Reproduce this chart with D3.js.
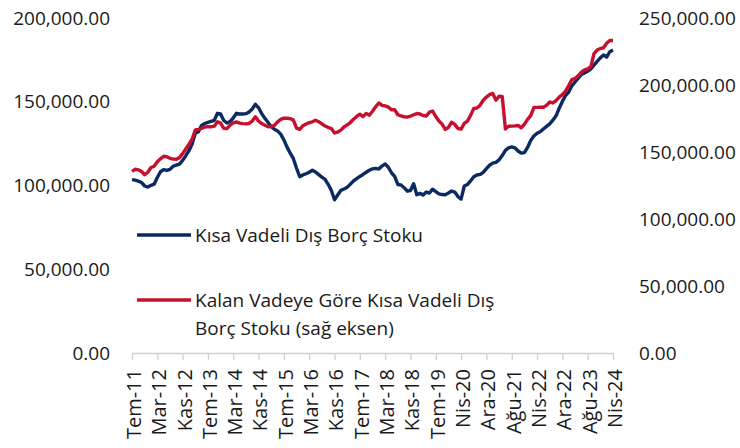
<!DOCTYPE html>
<html>
<head>
<meta charset="utf-8">
<script src="https://cdn.jsdelivr.net/npm/d3@7"></script>
<style>
  body { margin: 0; background: #fff; }
  svg text { font-family: "Open Sans", "Noto Sans", sans-serif; fill: #1a1a1a; }
</style>
</head>
<body>
<div id="chart"></div>
<script>
// monthly categories Tem-11 .. Nis-24 (one month absent in the source series)
const monthNames = ['Oca','Şub','Mar','Nis','May','Haz','Tem','Ağu','Eyl','Eki','Kas','Ara'];
const missingMonth = 'Ara-19';
const categories = [];
for (let y = 2011; y <= 2024; y++) {
  for (let m = 0; m < 12; m++) {
    if (y === 2011 && m < 6) continue;
    if (y === 2024 && m > 3) continue;
    const lab = monthNames[m] + '-' + String(y).slice(2);
    if (lab !== missingMonth) categories.push(lab);
  }
}

const tickLabels = ['Tem-11','Mar-12','Kas-12','Tem-13','Mar-14','Kas-14','Tem-15','Mar-16','Kas-16','Tem-17',
  'Mar-18','Kas-18','Tem-19','Nis-20','Ara-20','Ağu-21','Nis-22','Ara-22','Ağu-23','Nis-24'];
const leftTicks = [0, 50000, 100000, 150000, 200000];
const rightTicks = [0, 50000, 100000, 150000, 200000, 250000];

// Kısa Vadeli Dış Borç Stoku (left axis)
const shortTerm = [
  103500,103200,102600,101800,99700,99100,100100,100800,104800,108200,
  109500,109000,109600,111500,112200,112800,115000,117800,120800,124800,
  131200,132100,135900,137000,137700,138300,138900,143100,142700,138800,
  137300,138200,140300,143100,142700,142700,142900,143900,145700,148500,
  146400,142900,140100,137600,135100,133600,132600,130700,127200,122900,
  119300,116000,110300,105300,106300,107000,107900,109100,108100,106500,
  105000,103700,100700,97000,91500,94300,97100,97900,98900,100800,
  102700,104100,105400,106600,107900,109100,109900,110200,109800,111600,
  112900,110900,107600,105400,100600,100300,98700,96600,97000,101000,
  94500,95300,94300,96100,95500,97800,96400,95000,94600,94500,
  95500,96700,96100,93400,91900,99700,100600,102700,105200,106300,
  106600,107800,110100,112100,113400,113800,115300,117900,121000,122500,
  123000,122500,120600,119300,119600,122700,126900,129500,131200,132100,
  133700,135300,136800,139000,141600,146100,150200,153700,155800,159500,
  161800,164100,166200,167200,168200,169600,171900,174100,176200,177900,
  176700,179900,180900
];

// Kalan Vadeye Göre Kısa Vadeli Dış Borç Stoku (right axis)
const residualTerm = [
  135500,137100,136700,135400,133000,134900,138400,139400,142700,144900,
  146800,146500,145300,144700,144600,145800,148800,152200,155800,159600,
  166400,166900,167600,168700,168900,168800,169300,172500,171500,167600,
  167500,170000,171800,172400,171600,171200,171000,171300,173100,176300,
  173000,171200,169900,168800,169000,169900,172500,174300,175300,175200,
  174900,173800,167800,166900,169600,170900,171900,172500,173700,172600,
  171000,169400,168400,167500,164200,164900,166300,168700,170300,172000,
  174400,176500,178200,176400,178800,177400,180400,183700,186600,184800,
  184400,183500,181500,181600,177800,176900,176300,176000,176700,177800,
  178700,178400,177200,176900,179800,180600,176500,173100,170800,166900,
  168300,172200,170600,167500,167100,171300,173100,177300,182500,182800,
  184900,188600,191000,192800,193700,188700,191600,191400,167200,169200,
  169300,169500,169800,168100,170700,174300,177200,183200,183300,183400,
  183400,184800,187300,186600,188400,190900,192800,195500,199600,204000,
  204900,206900,209600,211300,212000,213800,223400,226100,227200,227800,
  231100,233200,233200
];

const width = 740, height = 448;
const plot = { left: 132, right: 613, top: 18, bottom: 353 };
const blue = '#0b2a62', red = '#c8102e';

const svg = d3.select('#chart').append('svg')
  .attr('width', width).attr('height', height);

const x = d3.scalePoint().domain(categories).range([plot.left, plot.right]);
const yL = d3.scaleLinear().domain([0, 200000]).range([plot.bottom, plot.top]);
const yR = d3.scaleLinear().domain([0, 250000]).range([plot.bottom, plot.top]);
const fmt = d3.format(',.2f');

// left axis
const gl = svg.append('g').attr('transform', `translate(${plot.left},0)`)
  .call(d3.axisLeft(yL).tickValues(leftTicks).tickSize(0).tickPadding(22).tickFormat(fmt));
gl.select('.domain').remove();

// right axis
const gr = svg.append('g').attr('transform', `translate(${plot.right},0)`)
  .call(d3.axisRight(yR).tickValues(rightTicks).tickSize(0).tickPadding(26).tickFormat(fmt));
gr.select('.domain').remove();

svg.selectAll('.tick text').style('font-size', '19px');

// bottom axis
const gx = svg.append('g').attr('transform', `translate(0,${plot.bottom})`)
  .call(d3.axisBottom(x).tickValues(tickLabels).tickSize(7).tickSizeOuter(0));
gx.select('.domain').attr('stroke', '#d0d0d0').attr('stroke-width', 1.3);
gx.selectAll('.tick line').attr('stroke', '#d0d0d0').attr('stroke-width', 1.3);
gx.selectAll('.tick text')
  .attr('transform', 'rotate(-90)')
  .attr('x', -16).attr('y', 0).attr('dy', '0.42em')
  .style('text-anchor', 'end')
  .style('font-size', '20px');

// lines
const lineL = d3.line().x((d, i) => x(categories[i])).y(d => yL(d));
const lineR = d3.line().x((d, i) => x(categories[i])).y(d => yR(d));

svg.append('path').datum(shortTerm)
  .attr('fill', 'none').attr('stroke', blue).attr('stroke-width', 3.4)
  .attr('stroke-linejoin', 'round').attr('d', lineL);
svg.append('path').datum(residualTerm)
  .attr('fill', 'none').attr('stroke', red).attr('stroke-width', 3.4)
  .attr('stroke-linejoin', 'round').attr('d', lineR);

// legend
const legend = svg.append('g');
const items = [
  { color: blue, y: 235, lines: ['Kısa Vadeli Dış Borç Stoku'] },
  { color: red, y: 300, lines: ['Kalan Vadeye Göre Kısa Vadeli Dış', 'Borç Stoku (sağ eksen)'] }
];
items.forEach(it => {
  legend.append('line')
    .attr('x1', 137).attr('x2', 191).attr('y1', it.y).attr('y2', it.y)
    .attr('stroke', it.color).attr('stroke-width', 3.4);
  const t = legend.append('text').attr('x', 195).attr('y', it.y)
    .style('font-size', '19px');
  it.lines.forEach((s, k) => {
    t.append('tspan').attr('x', 195).attr('dy', k === 0 ? '0.35em' : '28px').text(s);
  });
});
</script>
</body>
</html>
